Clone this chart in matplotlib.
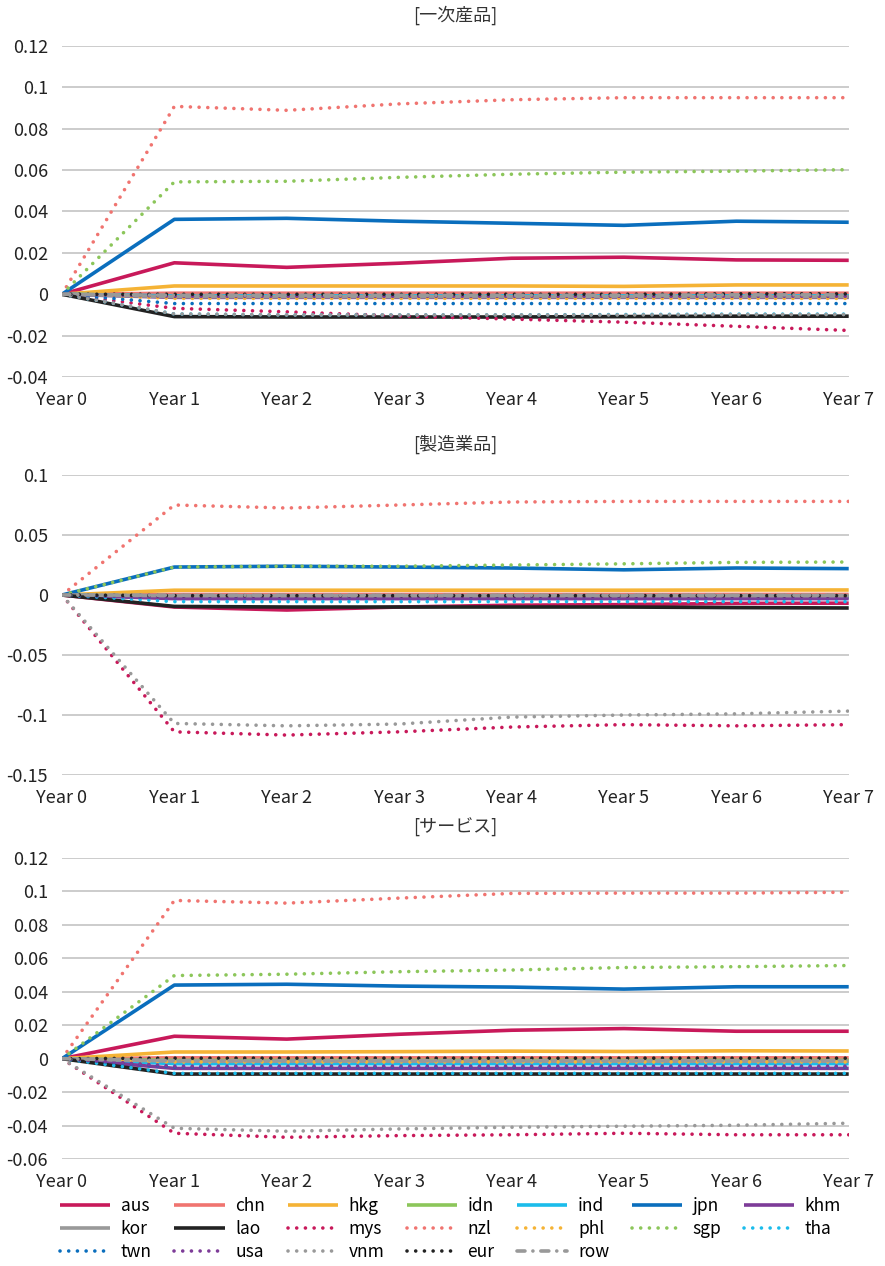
import numpy as np
import matplotlib.pyplot as plt

plt.rcParams['font.family'] = ['Noto Sans CJK JP', 'DejaVu Sans']

years = ["Year 0", "Year 1", "Year 2", "Year 3", "Year 4", "Year 5", "Year 6", "Year 7"]
names = ["aus", "chn", "hkg", "idn", "ind", "jpn", "khm", "kor", "lao", "mys",
         "nzl", "phl", "sgp", "tha", "twn", "usa", "vnm", "eur", "row"]

# [一次産品]
prim = {
    "aus": [0, 0.0152, 0.0130, 0.0150, 0.0174, 0.0179, 0.0166, 0.0164],
    "chn": [0, 0.0005, 0.0005, 0.0005, 0.0005, 0.0005, 0.0005, 0.0005],
    "hkg": [0, 0.0040, 0.0040, 0.0040, 0.0040, 0.0038, 0.0045, 0.0045],
    "idn": [0, -0.0010, -0.0010, -0.0010, -0.0010, -0.0010, -0.0010, -0.0010],
    "ind": [0, -0.0008, -0.0008, -0.0008, -0.0008, -0.0008, -0.0008, -0.0008],
    "jpn": [0, 0.0362, 0.0367, 0.0353, 0.0343, 0.0333, 0.0353, 0.0348],
    "khm": [0, -0.0015, -0.0015, -0.0015, -0.0015, -0.0015, -0.0015, -0.0015],
    "kor": [0, -0.0012, -0.0012, -0.0012, -0.0012, -0.0012, -0.0012, -0.0012],
    "lao": [0, -0.0108, -0.0110, -0.0110, -0.0110, -0.0108, -0.0106, -0.0106],
    "mys": [0, -0.0068, -0.0085, -0.0105, -0.0120, -0.0135, -0.0155, -0.0175],
    "nzl": [0, 0.0908, 0.0889, 0.0920, 0.0940, 0.0950, 0.0950, 0.0950],
    "phl": [0, -0.0020, -0.0020, -0.0020, -0.0020, -0.0020, -0.0020, -0.0020],
    "sgp": [0, 0.0543, 0.0546, 0.0565, 0.0580, 0.0590, 0.0595, 0.0602],
    "tha": [0, -0.0095, -0.0100, -0.0100, -0.0100, -0.0098, -0.0096, -0.0096],
    "twn": [0, -0.0045, -0.0045, -0.0045, -0.0045, -0.0045, -0.0045, -0.0045],
    "usa": [0, -0.0010, -0.0010, -0.0010, -0.0010, -0.0010, -0.0010, -0.0010],
    "vnm": [0, -0.0095, -0.0100, -0.0100, -0.0100, -0.0100, -0.0098, -0.0098],
    "eur": [0, 0.0000, 0.0000, 0.0000, 0.0000, 0.0000, 0.0002, 0.0002],
    "row": [0, -0.0005, -0.0005, -0.0005, -0.0005, -0.0005, -0.0003, -0.0003],
}

# [製造業品]
manu = {
    "aus": [0, -0.0100, -0.0125, -0.0100, -0.0085, -0.0080, -0.0070, -0.0068],
    "chn": [0, 0.0005, 0.0005, 0.0005, 0.0005, 0.0005, 0.0005, 0.0005],
    "hkg": [0, 0.0040, 0.0040, 0.0040, 0.0040, 0.0040, 0.0042, 0.0042],
    "idn": [0, -0.0015, -0.0015, -0.0015, -0.0015, -0.0015, -0.0015, -0.0015],
    "ind": [0, -0.0020, -0.0020, -0.0020, -0.0020, -0.0020, -0.0020, -0.0020],
    "jpn": [0, 0.0233, 0.0240, 0.0233, 0.0225, 0.0210, 0.0225, 0.0220],
    "khm": [0, -0.0030, -0.0030, -0.0030, -0.0030, -0.0030, -0.0030, -0.0030],
    "kor": [0, -0.0005, -0.0005, -0.0005, -0.0005, -0.0005, -0.0005, -0.0005],
    "lao": [0, -0.0095, -0.0100, -0.0100, -0.0100, -0.0100, -0.0105, -0.0108],
    "mys": [0, -0.1140, -0.1167, -0.1140, -0.1100, -0.1080, -0.1090, -0.1080],
    "nzl": [0, 0.0750, 0.0725, 0.0750, 0.0775, 0.0780, 0.0780, 0.0780],
    "phl": [0, -0.0020, -0.0020, -0.0020, -0.0020, -0.0020, -0.0020, -0.0020],
    "sgp": [0, 0.0233, 0.0240, 0.0240, 0.0250, 0.0260, 0.0272, 0.0275],
    "tha": [0, -0.0055, -0.0055, -0.0055, -0.0055, -0.0055, -0.0055, -0.0055],
    "twn": [0, -0.0025, -0.0025, -0.0025, -0.0025, -0.0025, -0.0025, -0.0025],
    "usa": [0, -0.0025, -0.0025, -0.0025, -0.0025, -0.0025, -0.0025, -0.0025],
    "vnm": [0, -0.1070, -0.1090, -0.1075, -0.1017, -0.1000, -0.0990, -0.0967],
    "eur": [0, -0.0005, -0.0005, -0.0005, -0.0005, -0.0005, -0.0005, -0.0005],
    "row": [0, -0.0002, -0.0002, -0.0002, -0.0002, -0.0002, -0.0002, -0.0002],
}

# [サービス]
serv = {
    "aus": [0, 0.0134, 0.0117, 0.0146, 0.0170, 0.0180, 0.0164, 0.0164],
    "chn": [0, 0.0005, 0.0005, 0.0005, 0.0005, 0.0005, 0.0005, 0.0005],
    "hkg": [0, 0.0040, 0.0040, 0.0042, 0.0045, 0.0043, 0.0047, 0.0046],
    "idn": [0, -0.0010, -0.0010, -0.0010, -0.0010, -0.0010, -0.0010, -0.0010],
    "ind": [0, -0.0030, -0.0030, -0.0030, -0.0030, -0.0030, -0.0030, -0.0030],
    "jpn": [0, 0.0440, 0.0445, 0.0434, 0.0428, 0.0416, 0.0430, 0.0430],
    "khm": [0, -0.0058, -0.0058, -0.0058, -0.0058, -0.0058, -0.0058, -0.0058],
    "kor": [0, -0.0015, -0.0015, -0.0015, -0.0015, -0.0015, -0.0015, -0.0015],
    "lao": [0, -0.0092, -0.0092, -0.0092, -0.0092, -0.0092, -0.0092, -0.0092],
    "mys": [0, -0.0446, -0.0470, -0.0460, -0.0455, -0.0446, -0.0455, -0.0455],
    "nzl": [0, 0.0946, 0.0930, 0.0960, 0.0988, 0.0990, 0.0990, 0.0995],
    "phl": [0, -0.0020, -0.0020, -0.0020, -0.0020, -0.0020, -0.0020, -0.0020],
    "sgp": [0, 0.0497, 0.0505, 0.0520, 0.0530, 0.0545, 0.0550, 0.0557],
    "tha": [0, -0.0088, -0.0088, -0.0088, -0.0088, -0.0088, -0.0088, -0.0088],
    "twn": [0, -0.0050, -0.0050, -0.0050, -0.0050, -0.0050, -0.0050, -0.0050],
    "usa": [0, -0.0045, -0.0045, -0.0045, -0.0045, -0.0045, -0.0045, -0.0045],
    "vnm": [0, -0.0416, -0.0434, -0.0420, -0.0410, -0.0404, -0.0398, -0.0386],
    "eur": [0, 0.0003, 0.0003, 0.0003, 0.0003, 0.0003, 0.0003, 0.0003],
    "row": [0, -0.0012, -0.0012, -0.0012, -0.0012, -0.0012, -0.0012, -0.0012],
}

colors = {
    "aus": "#C8195A", "chn": "#F07470", "hkg": "#F5B335", "idn": "#8CC65A",
    "ind": "#1BBCEB", "jpn": "#0A6EBD", "khm": "#7D3C98", "kor": "#999999",
    "lao": "#222222", "mys": "#C8195A", "nzl": "#F07470", "phl": "#F5B335",
    "sgp": "#8CC65A", "tha": "#1BBCEB", "twn": "#0A6EBD", "usa": "#7D3C98",
    "vnm": "#999999", "eur": "#222222", "row": "#999999",
}
solid = ["aus", "chn", "hkg", "idn", "ind", "jpn", "khm", "kor", "lao"]

panels = [
    ("[一次産品]", prim, [-0.04, -0.02, 0, 0.02, 0.04, 0.06, 0.08, 0.1, 0.12], (-0.04, 0.12),
     (0.7022, 0.9637)),
    ("[製造業品]", manu, [-0.15, -0.1, -0.05, 0, 0.05, 0.1], (-0.15, 0.1),
     (0.3878, 0.6248)),
    ("[サービス]", serv, [-0.06, -0.04, -0.02, 0, 0.02, 0.04, 0.06, 0.08, 0.1, 0.12], (-0.06, 0.12),
     (0.0845, 0.3223)),
]

fig = plt.figure(figsize=(8.85, 12.66), dpi=100)
x = np.arange(len(years))
handles = {}
for title, data, ticks, lim, (b, t) in panels:
    ax = fig.add_axes([0.070, b, 0.889, t - b])
    for n in names:
        if n in solid:
            ls = "-"
        elif n == "row":
            ls = (0, (2.2, 2.2, 0.01, 2.2))
        else:
            ls = (0, (0.01, 2.4))
        h, = ax.plot(x, data[n], color=colors[n], lw=2.6, ls=ls, label=n,
                     dash_capstyle="round", solid_capstyle="butt")
        handles.setdefault(n, h)
    ax.set_xlim(0, 7)
    ax.set_ylim(*lim)
    ax.set_yticks(ticks)
    ax.set_yticklabels([("%g" % v) for v in ticks])
    ax.set_xticks(x)
    ax.set_xticklabels(years)
    ax.grid(axis="y", color="#C8C8C8", lw=1.3)
    ax.set_axisbelow(True)
    for s in ax.spines.values():
        s.set_visible(False)
    ax.tick_params(length=0, labelsize=13, colors="#222222")
    ax.tick_params(axis="x", pad=10)
    ax.tick_params(axis="y", pad=10)
    ax.set_title(title, fontsize=13, color="#333333", pad=18)

# legend is read row by row in the reference, matplotlib fills columns
order = ["aus", "kor", "twn", "chn", "lao", "usa", "hkg", "mys", "vnm",
         "idn", "nzl", "eur", "ind", "phl", "row", "jpn", "sgp", "khm", "tha"]
fig.legend([handles[n] for n in order], order, ncol=7, loc="upper left",
           bbox_to_anchor=(0.060, 1 - 1190 / 1266), frameon=False,
           fontsize=12.5, handlelength=2.9, handletextpad=0.6,
           columnspacing=1.3, labelspacing=0.3, borderaxespad=0)

fig.savefig("out.png", dpi=100)
